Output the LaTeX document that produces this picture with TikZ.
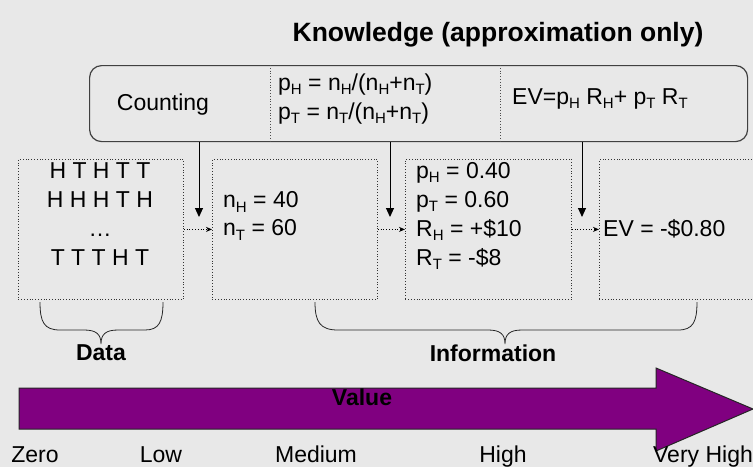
\documentclass[tikz,border=0pt]{standalone}
\usepackage{fontspec}
\setmainfont{Liberation Sans}
\usetikzlibrary{arrows.meta}
\definecolor{bg}{HTML}{E8E8E8}
\definecolor{purp}{HTML}{800080}
\newcommand{\lo}[1]{\raisebox{-0.35ex}{\fontsize{15}{15}\selectfont #1}}
\begin{document}
\begin{tikzpicture}[x=1pt,y=-1pt,
  txt/.style={font=\fontsize{23}{29}\selectfont, inner sep=0pt, align=left},
  bold/.style={font=\fontsize{23}{27}\selectfont\bfseries, inner sep=0pt},
  ttl/.style={font=\fontsize{26.5}{30}\selectfont\bfseries, inner sep=0pt},
  topbox/.style={draw=black!75, line width=1.2pt, rounded corners=12pt, inner sep=0pt, anchor=north west},
  dbox/.style={draw=black!80, dotted, line width=0.8pt, inner sep=0pt, anchor=north west, minimum height=140pt},
  divider/.style={draw=black!70, dotted, line width=0.8pt},
  downarrow/.style={-{Triangle[length=9pt,width=8pt]}, line width=1pt},
  dotarrow/.style={dotted, -{Stealth[length=6pt,width=5pt]}, line width=0.8pt},
  brace/.style={line width=0.8pt, draw=black!85},
  bigarrow/.style={fill=purp, draw=black!85, line width=1pt}]
\useasboundingbox (0,0) rectangle (753,467);
\fill[bg] (0,0) rectangle (753,467);
\clip (0,0) rectangle (753,467);

% title
\node[ttl] (title) at (498,35) {Knowledge (approximation only)};

% top box
\node[topbox, minimum width=658pt, minimum height=76pt] (know) at (89,65) {};
\coordinate (d1) at (270,0);
\coordinate (d2) at (500,0);
\draw[divider] (know.north -| d1) -- (know.south -| d1);
\draw[divider] (know.north -| d2) -- (know.south -| d2);
\node[txt] (counting) at (163,105) {Counting};
\node[txt, anchor=west] (probs) at (278,99) {p\lo{H} = n\lo{H}/(n\lo{H}+n\lo{T})\\p\lo{T} = n\lo{T}/(n\lo{H}+n\lo{T})};
\node[txt, anchor=west] (evf) at (512,99) {EV=p\lo{H} R\lo{H}+ p\lo{T} R\lo{T}};

% boxes
\node[dbox, minimum width=165pt] (b1) at (18,159) {};
\node[dbox, minimum width=165pt] (b2) at (212,159) {};
\node[dbox, minimum width=166pt] (b3) at (405,159) {};
\node[dbox, minimum width=170pt] (b4) at (599,159) {};

\node[txt, align=center] (data) at (100,214) {H T H T T\\H H H T H\\\ldots\\T T T H T};
\node[txt, anchor=west, font=\fontsize{23}{28}\selectfont] (counts) at (223,216) {n\lo{H} = 40\\n\lo{T} = 60};
\node[txt, anchor=west] (params) at (416,216) {p\lo{H} = 0.40\\p\lo{T} = 0.60\\R\lo{H} = +\$10\\R\lo{T} = -\$8};
\node[txt, anchor=west] (ev) at (603,229) {EV = -\$0.80};

% arrows down
\coordinate (a1) at (199,217);
\coordinate (a2) at (390,217);
\coordinate (a3) at (582,217);
\draw[downarrow] (know.south -| a1) -- (a1);
\draw[downarrow] (know.south -| a2) -- (a2);
\draw[downarrow] (know.south -| a3) -- (a3);

% dotted arrows
\draw[dotarrow] (b1.east) -- (b2.west);
\draw[dotarrow] (b2.east) -- (b3.west);
\draw[dotarrow] (b3.east) -- (b4.west);

% braces
\draw[brace] (40,302) .. controls (40,322) and (44,330) .. (60,330) -- (84,330)
  .. controls (96,330) and (101,334) .. (101,344)
  .. controls (101,334) and (106,330) .. (118,330) -- (145,330)
  .. controls (159,330) and (163,322) .. (163,302);
\draw[brace] (315,302) .. controls (315,322) and (320,330) .. (338,330) -- (488,330)
  .. controls (500,330) and (505,334) .. (505,344)
  .. controls (505,334) and (510,330) .. (522,330) -- (678,330)
  .. controls (693,330) and (697,322) .. (697,302);
\node[bold] (datalbl) at (101,353) {Data};
\node[bold] (infolbl) at (493,353) {Information};

% big arrow
\draw[bigarrow] (19,388) -- (656,388) -- (656,368) -- (753,409) -- (656,451) -- (656,429) -- (19,429) -- cycle;
\node[bold] (value) at (362,397) {Value};

% scale labels
\node[txt, anchor=base] (zero) at (35,462) {Zero};
\node[txt, anchor=base] (low) at (161,462) {Low};
\node[txt, anchor=base] (med) at (316,462) {Medium};
\node[txt, anchor=base] (high) at (503,462) {High};
\node[txt, anchor=base] (vhigh) at (703,462) {Very High};
\end{tikzpicture}
\end{document}
